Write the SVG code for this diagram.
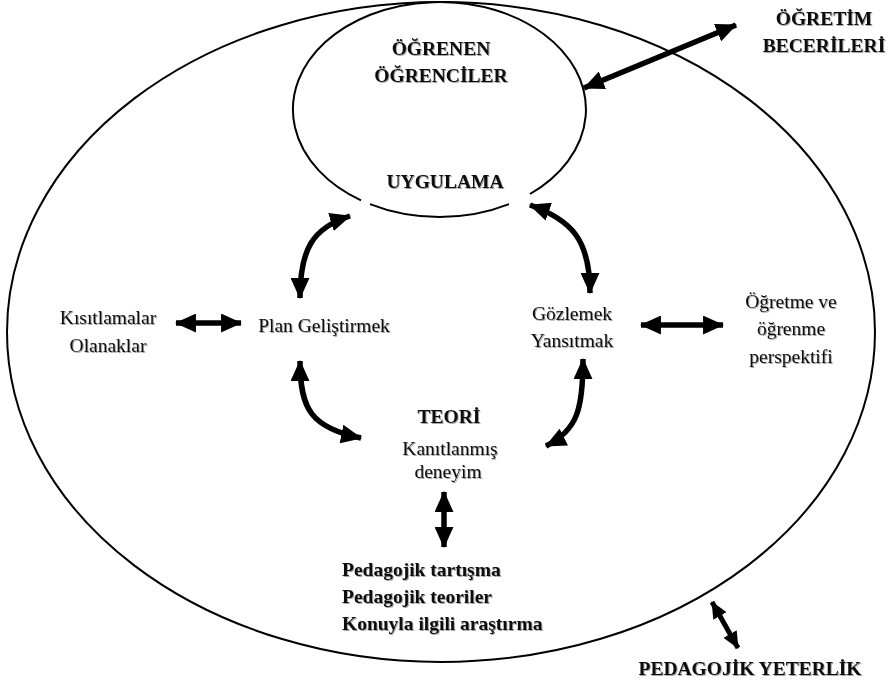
<svg xmlns="http://www.w3.org/2000/svg" width="893" height="685" viewBox="0 0 893 685">
<defs>
<filter id="sh" x="-5%" y="-20%" width="110%" height="140%">
<feDropShadow dx="1" dy="1" stdDeviation="0.7" flood-color="#000" flood-opacity="0.35"/>
</filter>
<marker id="ah" viewBox="0 0 20 18" markerUnits="userSpaceOnUse" markerWidth="21" markerHeight="19" refX="19" refY="9" orient="auto-start-reverse">
<path d="M0,0 L20,9 L0,18 Z" fill="#000"/>
</marker>
<marker id="ahs" viewBox="0 0 20 18" markerUnits="userSpaceOnUse" markerWidth="17" markerHeight="16" refX="19" refY="9" orient="auto-start-reverse">
<path d="M0,0 L20,9 L0,18 Z" fill="#000"/>
</marker>
</defs>
<style>
.t{font-family:"Liberation Serif","Times New Roman",serif;font-size:19.5px;fill:#111;text-anchor:middle;filter:url(#sh)}
.b{font-weight:bold}
.l{text-anchor:start}
.ring{fill:none;stroke:#000;stroke-width:2}
.a{fill:none;stroke:#000;stroke-width:5.5;marker-start:url(#ah);marker-end:url(#ah)}
.as{fill:none;stroke:#000;stroke-width:5;marker-start:url(#ahs);marker-end:url(#ahs)}
</style>
<g id="pedagojik-yeterlik">
<ellipse class="ring" cx="441" cy="332" rx="434" ry="330"/>
<text class="t b" x="750" y="675">PEDAGOJİK YETERLİK</text>
</g>
<g id="ogrenen-ogrenciler">
<path class="ring" d="M370,204.1 A146.5,107.5 0 0 0 509,204.1 M530,194 A146.5,107.5 0 1 0 361,200.3"/>
<text class="t b" x="441" y="55">ÖĞRENEN</text>
<text class="t b" x="441" y="82">ÖĞRENCİLER</text>
<text class="t b" x="445" y="188">UYGULAMA</text>
</g>
<g id="ogretim-becerileri">
<text class="t b" x="824" y="25">ÖĞRETİM</text>
<text class="t b" x="824" y="52">BECERİLERİ</text>
</g>
<g id="plan">
<text class="t" x="324" y="332">Plan Geliştirmek</text>
</g>
<g id="gozlemek">
<text class="t" x="572" y="320">Gözlemek</text>
<text class="t" x="572" y="347">Yansıtmak</text>
</g>
<g id="teori">
<text class="t b" x="449" y="423">TEORİ</text>
<text class="t" x="450" y="455">Kanıtlanmış</text>
<text class="t" x="448" y="478">deneyim</text>
</g>
<g id="kisitlamalar">
<text class="t" x="108" y="324">Kısıtlamalar</text>
<text class="t" x="108" y="352">Olanaklar</text>
</g>
<g id="perspektif">
<text class="t" x="791" y="308">Öğretme ve</text>
<text class="t" x="791" y="335">öğrenme</text>
<text class="t" x="791" y="363">perspektifi</text>
</g>
<g id="pedagojik-kaynaklar">
<text class="t b l" x="342" y="576">Pedagojik tartışma</text>
<text class="t b l" x="342" y="603">Pedagojik teoriler</text>
<text class="t b l" x="342" y="630">Konuyla ilgili araştırma</text>
</g>
<g id="connectors">
<path class="a" d="M300,298 C300,250 312,228 350,216"/>
<path class="a" d="M530,205 C572,220 590,240 590,293"/>
<path class="a" d="M300,361 C300,410 312,428 361,438"/>
<path class="a" d="M583,359 C583,408 578,430 546,446"/>
<line class="a" x1="176" y1="323" x2="241" y2="323"/>
<line class="a" x1="641" y1="325" x2="723" y2="325"/>
<line class="a" x1="584" y1="88" x2="736" y2="25"/>
<line class="a" x1="444" y1="492" x2="444" y2="547"/>
<line class="as" x1="712" y1="602" x2="738" y2="648"/>
</g>
</svg>
